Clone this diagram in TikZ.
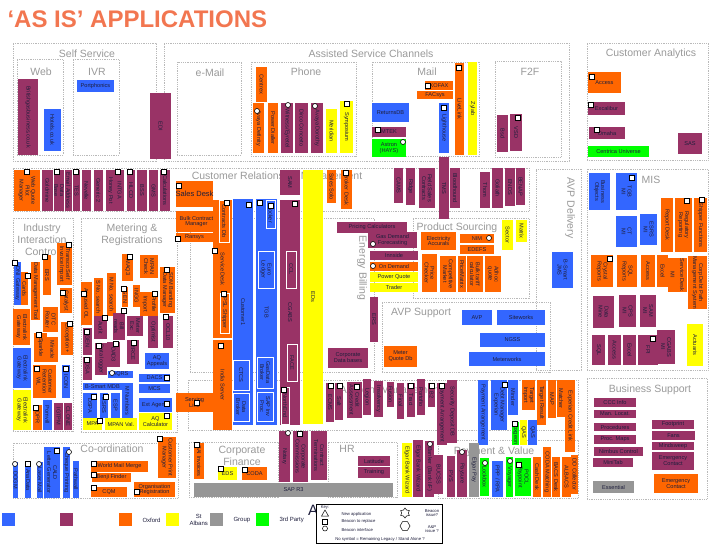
\documentclass[tikz,border=0pt]{standalone}
\usepackage{fontspec}
\setmainfont{Liberation Sans}
\usetikzlibrary{shapes.geometric}
\definecolor{cb}{RGB}{51,102,255}
\definecolor{cp}{RGB}{153,51,102}
\definecolor{co}{RGB}{255,102,0}
\definecolor{cy}{RGB}{255,255,0}
\definecolor{cg}{RGB}{150,150,150}
\definecolor{cgr}{RGB}{0,255,0}
\definecolor{ink}{RGB}{30,30,60}
\definecolor{ttl}{RGB}{242,118,80}
\begin{document}
\begin{tikzpicture}[x=1pt,y=-1pt,
    app/.style={inner sep=0pt, text=ink, font=\fontsize{5.6}{5.9}\selectfont, align=center},
    vbox/.style={app, rotate=-90},
    hbox/.style={app},
    inbox/.style={draw=white, line width=.8pt},
    cont/.style={draw=gray!55, dash pattern=on .9pt off .9pt, line width=.5pt, inner sep=0pt},
    grp/.style={text=gray!80, font=\fontsize{10.5}{12}\selectfont, align=center},
    sq/.style={draw=black, fill=white, line width=.7pt, minimum size=4.5pt, inner sep=0pt},
    ci/.style={circle, draw=black, fill=white, line width=.6pt, minimum size=5pt, inner sep=0pt},
    legtxt/.style={text=ink, font=\fontsize{6}{6.5}\selectfont, align=center},
    keytxt/.style={text=ink, font=\fontsize{4.2}{4.6}\selectfont, align=center}]
\useasboundingbox (0,0) rectangle (728,546);

\node[anchor=west, text=ttl, font=\fontsize{24}{26}\bfseries\selectfont] (title) at (4,19) {‘AS IS’ APPLICATIONS};

% dotted groups
\foreach \n/\xa/\ya/\xb/\yb in {selfserv/13/43/156/161, web/17/59/63/155, ivr/73/59/119/155,
    asc/164/43/569/161, emailbox/177/62/241/155, phone/251/62/356/156, mail/372/62/479/156,
    f2f/495/61/561/157, custan/587/43/708/160, crm/13/168/529/211, iic/13/218/73/431,
    metreg/81/218/177/432, ebill/190/218/374/372, prodsrc/413/218/529/298, avpsup/382/302/550/372,
    avpdel/536/169/581/370, mis/587/169/708/370, acct/188/380/578/430, bussup/587/378/707/499,
    hr/328/442/397/497, payval/438/440/578/498, corpfin/189/442/278/497, coord/13/443/178/498}{
  \node[cont, minimum width={(\xb-\xa)*1pt}, minimum height={(\yb-\ya)*1pt}] (\n) at ({(\xa+\xb)/2},{(\ya+\yb)/2}) {};
}
\foreach \n/\x/\y/\t in {lselfserv/87/54/Self Service, lweb/41/72/Web, livr/97/72/IVR,
    lemail/210/73/e-Mail, lasc/371/54/Assisted Service Channels, lphone/306/72/Phone,
    lmail/427/72/Mail, lf2f/530/72/F2F, lcustan/651/54/Customer Analytics,
    lcrm/277/177/Customer Relationship Management, liic/42/240/{Industry\\Interaction\\Control},
    lmetreg/132/235/{Metering \&\\Registrations}, lprodsrc/457/228/Product Sourcing,
    lavpsup/421/313/AVP Support, lmis/651/180/MIS, lbussup/650/390/Business Support,
    lacct/391/391/Account Management, lhr/347/449/HR, lpayval/494/452/{Payment \& Value},
    lcorpfin/242/456/{Corporate\\Finance}, lcoord/112/449/Co-ordination}{
  \node[grp] (\n) at (\x,\y) {\t};
}
\node[grp, rotate=-90] (lebill) at (362,268) {Energy Billing};
\node[grp, rotate=-90] (lavpdel) at (570,208) {AVP Delivery};

% applications, vertical text
\foreach \n/\xa/\ya/\xb/\yb/\c/\t in {bgb/18/79/38/155/cp/Britishgasbusiness.co.uk,
    hotels/44/109/61/151/cb/Hotels.co.uk, edi/150/93/171/159/cp/EDI,
    centrex/256/67/267/102/co/Centrex, avdef/253/103/264/153/co/Avaya Definity,
    pdial/268/103/278/153/co/Power Dialler, witness/281/103/293/153/cp/{Witness/Eyretel},
    dirco/295/103/308/153/cp/Dirco Concerto, avdor/311/103/323/153/cp/Avaya Dorothy,
    merid/326/109/337/153/cy/Meridian, symp/340/101/353/153/cy/Symposium,
    lighth/439/103/449/153/cb/Lighthouse, livel/455/63/464/155/co/LiveLink,
    zylab/468/62/477/155/cy/Zylab, bsd/497/115/508/152/cp/Bsd, vsd/510/114/522/151/cp/VSD,
    wqpm/14/170/40/211/co/{Web Quote\\Pilot\\Manager}, goldm/42/170/53/211/cp/Goldmine,
    datab/54/170/64/211/cp/{Data\\Base}, emailad/65/170/72/211/cp/Email Address,
    tes/73/170/80/211/cp/TES, nevel/82/170/91/211/cp/Nevelle, gen2/94/170/103/211/cp/Generic 2,
    honey/106/170/115/211/cp/Honey Pot, intga/115/170/124/211/cp/INTGA,
    hlcd/127/170/135/211/cp/HLCD, bss/137/170/147/211/cp/BSS, gms/149/170/158/211/cp/GMS,
    calcs/160/170/170/211/cp/Calculations, sam/280/170/300/195/cp/SAM,
    salesolo/327/170/336/203/co/Sales Solo, broker/341/170/352/209/co/Broker Desk,
    cams/394/168/403/203/cp/CAMS, ridge/406/168/415/205/cp/Ridge,
    fieldsc/419/168/435/208/cp/{Field Sales\\Contracts}, tms/439/157/449/219/cp/TMS,
    blood/450/168/460/208/cp/Bloodhound, thom/480/172/490/208/cp/Thom,
    goliath/492/168/503/208/cp/Goliath, ends/505/168/515/206/cp/ENDS,
    benap/516/168/525/205/cp/BENAP,
    servdesk/213/200/232/338/co/Service Desk, india/213/340/232/430/co/India Server,
    cust1/233/199/253/425/cb/Customer1, tgb/256/199/277/425/cb/TGB,
    cgabs/280/200/300/425/cp/CGABS, edsy/303/170/323/424/cy/EDs, ers2/370/297/378/342/cp/ERS,
    sector/502/220/513/250/cy/Sector, matrix/516/220/527/242/cy/Matrix,
    pcheck/422/254/437/292/co/{Price\\Checker}, compmkt/440/256/456/292/co/{Competitive\\Market},
    pmatrix/458/256/466/292/co/PriceMatrix, bulkt/467/256/483/292/co/{Bulk tariff\\calculator},
    adhoc/485/256/501/292/co/{Adhoc\\quote}, bsjms/552/252/573/288/cb/{B-Smart\\JMS},
    bo/589/173/610/210/cb/{Business\\Objects}, tgbmi/616/173/637/210/cb/{TGB\\MI},
    ctmi/616/216/637/247/cb/{CT\\MI}, esrsmi/640/214/657/245/cb/{ESRS\\MI},
    repdesk/661/198/673/252/co/Report Desk, regrep/675/198/692/252/co/{Regulatory\\Reporting},
    shipfn/694/198/707/252/co/Shipper Functions, crystal/591/255/613/287/co/{Crystal\\Reports},
    sqlrep/617/255/637/287/co/{SQL\\Reports}, accmis/641/255/655/287/co/Access,
    excmis/657/255/668/287/co/Excel, mimis/668/258/677/292/co/MI,
    sdmis/677/258/687/292/co/Service Desk, cdpm/688/258/707/307/co/{Corp Debt Path\\Management System},
    datamine/593/296/614/328/cp/{Data\\Mine}, cpsmi/619/295/636/327/cp/{CPS\\MI},
    sammi/640/295/656/327/cp/{SAM\\MI}, sqlp/592/335/605/365/cp/SQL, accp/608/335/621/365/cp/Access,
    excp/623/335/636/365/cp/Excel, fpi/638/335/658/365/cp/FPI, cgmi/657/330/675/364/cp/{CGABS\\MI},
    actu/687/324/703/366/cy/Actuaris,
    transco/57/243/72/285/co/{Transco Self\\Invoice Import}, ers/43/255/51/295/co/ERS,
    dmt/31/262/40/320/co/Data Management Tool, dni/14/262/21/305/cb/DNI Gateway,
    cards/21/272/28/305/co/Cards, catal/60/288/72/313/co/Catalyst,
    elgwa/13/309/30/345/co/{Electralink\\Gateway}, dtc/43/307/58/332/co/{DTC\\Router},
    exc/61/322/73/355/co/Exception +, sparkle/34/333/47/362/co/Sparkle,
    miracle/47/337/58/362/co/Miracle, elgwb/13/348/31/388/cb/{Electralink\\Gateway},
    custret/33/365/56/398/co/{Customer\\Retention\\WL}, icon/62/365/70/398/cb/ICON,
    elgwc/13/390/31/430/cy/{Electralink\\Gateway}, dpr/33/405/42/430/co/DPR,
    pomv/43/400/52/430/cb/Pomvill, igtpm/54/403/63/430/cp/IGTPM, clone/64/403/72/430/cp/CLONE,
    maq/122/254/133/281/co/MAQ3, mpanchk/140/255/158/278/co/{MPAN\\Check},
    sdm/160/267/175/313/co/{SDM Banding\\Data Manager}, snos/94/278/103/316/co/S No. search,
    mnos/107/273/116/316/co/M No. search, gen/122/287/128/307/co/GEN, ingg/133/285/140/307/co/INGG,
    import/140/292/150/316/co/Import, profile/150/292/158/316/co/Profile,
    accol/81/282/92/325/co/Accused OL, audit/94/316/107/339/cp/Audit,
    billr/113/313/125/340/cp/{Bill\\reads}, meterex/127/316/143/336/cp/{Meter\\Exc},
    optim/148/316/158/348/cp/Optimist, ocl/163/316/173/348/cp/OCL10, genp/83/328/92/355/cp/GEN,
    datalog/95/343/107/375/cp/{Data logger}, dad/107/342/120/367/cp/DAD3,
    mrce/127/340/139/364/cp/MRCE, dsa/83/357/92/380/cp/DSA, mnum/122/383/133/419/cb/M Numbers,
    dspa/83/393/97/418/cb/DSPA, esrs/100/393/108/418/cb/ESRS, esp/111/393/120/418/cb/ESP,
    ecms/326/383/334/422/cp/ECMS, salt/335/383/343/420/cp/Salt,
    credit/347/382/362/418/cp/{Credit\\Assessment}, legion/363/379/371/415/cp/Legion,
    insolv/374/381/383/417/cp/Insolvency, fusion/387/382/394/407/cp/Fusion,
    final/397/383/404/419/cp/Final, traci/407/383/415/417/cp/Traci,
    portf/417/379/425/415/cp/Portofio, btwo/428/383/435/407/cp/B2,
    payarr/437/383/447/445/cp/Payment Arrangement, secdep/447/380/457/443/cp/Security Deposit DB,
    payarrb/478/380/488/445/cb/Payment Arrangement, debtm/491/380/507/430/cb/{Debt Manager\\Experian},
    minder/508/380/518/415/cb/Minder, timp/522/380/535/410/co/{Target\\Import},
    tres/537/380/546/425/co/Target Result, map/548/380/556/418/co/MAP,
    matcher/557/380/565/417/co/Matcher, expcl/565/380/575/452/co/Experian Credit Link,
    voxg/512/422/519/445/cgr/Voxgeon, qasy/520/420/527/445/cy/QAS, qasb/528/420/537/445/cb/QAS,
    notary/279/431/290/482/cp/Notary, corpcom/293/431/308/482/cp/{Corporate\\Commissions},
    contterm/311/431/327/480/cp/{Contract\\Terminations},
    elgbwy/402/443/412/497/cy/Elgar Bank Wizard, elgbwp/413/440/423/497/cp/Elgar Bank Wizard,
    banker/425/441/434/497/cp/{Banker (Bank I/F)}, bucss/434/455/443/494/cp/BUCSS,
    pvs/447/456/455/497/cp/PVS, paysure/457/450/467/497/cp/Paysure,
    elgpay/469/443/479/497/cg/Elgar Pay, lockbox/480/458/489/496/cgr/Lockbox,
    ppp/492/461/503/497/cb/{PPP / RPA}, voyager/506/457/513/497/cgr/Voyager,
    pocl/515/458/531/496/cgr/{POCL\\Paypoint}, cashd/533/457/541/497/co/Cash Desk,
    codam/543/447/551/497/co/CODA Matching, bacs/552/457/560/497/co/BACS Desk,
    albacs/562/457/571/497/co/ALBACS, ddc/571/455/578/494/co/DD Collector,
    saiinv/194/443/204/479/co/SAI Invoices,
    dogm/13/462/18/498/cb/DOGM, anad/25/462/31/498/cb/AnaData, laser/37/462/43/498/cb/Laser Mail,
    cald/44/447/60/498/cb/{CALD\\Letter Generator}, cheque/63/447/70/498/cb/Cheque Printing,
    pathw/73/461/79/498/cb/Pathwall, custpm/158/437/176/478/co/{Customer Print\\Manager}}{
  \node[vbox, fill=\c, minimum width={(\yb-\ya)*1pt}, minimum height={(\xb-\xa)*1pt}] (\n) at ({(\xa+\xb)/2},{(\ya+\yb)/2}) {\t};
}

% applications, level text
\node[hbox, fill=co, font=\fontsize{7.5}{8}\selectfont, minimum width=37pt, minimum height=26pt] (sales) at (194.5,194) {Sales Desk};
\foreach \n/\xa/\ya/\xb/\yb/\c/\t in {portph/77/80/114/92/cb/Portphonics,
    retdb/372/103/409/122/cb/ReturnsDB, mtek/372/127/406/137/cp/MTEK,
    astron/372/139/406/157/cgr/{Astron\\(HAYS)}, kofax/425/81/453/90/co/KOFAX,
    facsys/417/91/453/99/co/FACsys, access/588/72/621/93/co/Access,
    excal/588/102/625/115/cp/Excalibur, omaha/589/127/625/139/cp/Omaha,
    univ/588/146/649/157/cgr/Centrica Universe, sas/678/133/702/154/cp/SAS,
    bulk/176/211/217/232/co/{Bulk Contract\\Manager}, ransys/176/233/213/242/co/Ransys,
    servline/176/393/213/412/co/{Serving\\Line},
    pricing/337/222/407/233/cp/Pricing Calculators, gasdem/368/232/417/248/cp/{Gas Demand\\Forecasting},
    innside/370/251/418/260/cp/Innside, ondem/370/262/418/271/co/On Demand,
    pquote/370/272/418/282/cy/Power Quote, trader/370/283/418/292/cy/Trader,
    elacc/421/232/456/250/co/{Electricity\\Accurals}, nim/460/234/494/243/co/NIM,
    edefs/460/245/494/254/co/EDEFS, corpdb/328/348/368/368/cp/{Corporate\\Data bases},
    mqdb/384/346/417/367/co/{Meter\\Quote Db}, avp/462/310/492/325/cb/AVP,
    sitew/497/310/545/325/cb/Siteworks, ngss/480/333/545/347/cb/NGSS,
    meterw/469/352/545/366/cb/Meterworks,
    aqapp/145/353/169/369/cb/{AQ\\Appeals}, aqrs/108/371/133/378/cb/AQRS,
    dacs/139/374/170/382/cb/DACS, bsmdb/83/383/122/390/cb/B-Smart MDB,
    mcs/139/384/170/393/cb/MCS, extag/139/398/172/412/cb/Ext Agents,
    mpa/83/418/102/430/cy/MPA, mpanv/105/418/137/430/cy/MPAN Val.,
    aqcalc/139/413/172/430/cy/{AQ\\Calculator},
    wmm/91/461/148/472/co/World Mail Merge, benji/92/473/131/482/co/Benji Finder,
    cqm/91/487/127/497/co/CQM, orgreg/134/482/175/497/co/{Organisation\\Registration},
    eds/218/467/237/480/cy/EDS, coda/242/467/267/480/co/CODA, sapr/194/483/393/497/cg/SAP R3,
    latit/358/456/390/466/cp/Latitude, train/358/467/390/478/cp/Training,
    ccc/594/398/636/407/cp/CCC Info, manloc/594/410/636/418/cp/Man. Locat.,
    proc/594/423/636/431/cp/Procedures, pmaps/594/435/636/444/cp/Proc. Maps,
    nimbus/594/447/643/456/cp/Nimbus Control, minitab/593/458/633/467/cp/MiniTab,
    essen/593/481/634/493/cg/Essential, foot/652/420/694/429/cp/Footprint,
    fans/652/431/695/440/cp/Fans, mindsw/652/442/694/450/cp/Mindsweep,
    emerga/652/452/694/470/cp/{Emergency\\Contact}, emergb/654/474/698/493/co/{Emergency\\Contact}}{
  \node[hbox, fill=\c, minimum width={(\xb-\xa)*1pt}, minimum height={(\yb-\ya)*1pt}] (\n) at ({(\xa+\xb)/2},{(\ya+\yb)/2}) {\t};
}

% boxes inside boxes
\foreach \n/\xa/\ya/\xb/\yb/\c/\t in {contdb/219/200/229/242/co/Contracts Db,
    pslship/220/293/229/333/co/PSL Shipper, docker/266/200/275/228/cb/Docker,
    euro/258/251/274/288/cb/{Euro\\Ledger}, gasdata/257/357/273/388/cb/{GasData\\Broker},
    sapinv/257/392/273/421/cb/{SAP Inv\\Proc}, ctcs/233/360/249/390/cb/CTCS,
    databr/233/393/249/421/cb/{Data\\Broker}, ccl/286/251/296/288/cp/CCL,
    face/287/344/297/381/cp/FACE, northend/281/387/289/424/cp/NorthEnd}{
  \node[vbox, inbox, fill=\c, minimum width={(\yb-\ya)*1pt}, minimum height={(\xb-\xa)*1pt}] (\n) at ({(\xa+\xb)/2},{(\ya+\yb)/2}) {\t};
}

% beacon marks
\foreach \x/\y [count=\i] in {347/104, 428/86, 378/130, 444/108, 459/68, 518/118, 592/77,
    591/105, 597/130, 27/172, 57/172, 76/172, 118/172, 130/172, 164/172, 346/173, 179/186,
    227/203, 178/239, 215/251, 224/294, 249/205, 260/203, 271/206, 295/204, 69/245, 45/257,
    28/276, 15/263, 63/293, 70/324, 39/335, 37/369, 66/369, 36/408, 130/257, 167/270,
    124/289, 155/294, 84/294, 105/318, 124/311, 166/317, 87/332, 99/346, 116/344, 134/343,
    87/360, 167/378, 94/397, 106/397, 167/404, 100/421, 167/416, 197/403, 221/346, 284/390,
    331/386, 340/386, 357/387, 411/386, 432/386, 442/386, 505/385, 515/424, 519/465, 300/434,
    197/445, 221/469, 245/470, 28/464, 57/451, 94/464, 94/475, 94/488, 137/492, 160/439,
    632/178, 687/201, 702/200, 610/259, 653/339}{
  \node[sq] (sq\i) at (\x,\y) {};
}
\foreach \x/\y [count=\i] in {288/105, 257/111, 315/106, 403/142, 373/244, 373/266, 489/238,
    112/373, 510/461, 485/463, 462/452, 430/444, 288/433, 15/464, 39/464, 69/452}{
  \node[ci] (ci\i) at (\x,\y) {};
}

% legend
\foreach \n/\xa/\c/\t in {lgb/2/cb/{}, lgp/60/cp/{}, lgo/119/co/Oxford, lgy/166/cy/{St\\Albans},
    lgg/210/cg/Group, lggr/256/cgr/3rd Party}{
  \node[fill=\c, minimum width=13pt, minimum height=13pt, inner sep=0pt] (\n) at (\xa+6.5,519.5) {};
  \node[legtxt, anchor=west] (\n t) at (\xa+20,520) {\t};
}
\node[text=ink, font=\fontsize{15}{16}\selectfont] (bigA) at (313,510) {A};

% key
\node[draw=black, line width=.8pt, fill=white, minimum width=126pt, minimum height=39pt, inner sep=0pt] (key) at (379,523.5) {};
\node[keytxt] (keyhd) at (325,507) {Key:};
\node[regular polygon, regular polygon sides=3, draw=black, line width=.5pt, minimum size=8pt, inner sep=0pt] (ktri) at (325,514) {};
\node[draw=black, line width=.5pt, minimum size=5pt, inner sep=0pt] (ksq) at (325,521.5) {};
\node[circle, draw=black, line width=.5pt, minimum size=5pt, inner sep=0pt] (kci) at (325,528.5) {};
\node[keytxt, anchor=west] (ktrit) at (338,514) {New application};
\node[keytxt, anchor=west] (ksqt) at (338,521) {Beacon to replace};
\node[keytxt, anchor=west] (kcit) at (338,530) {Beacon interface};
\node[star, star points=6, draw=black, line width=.5pt, minimum size=10pt, inner sep=0pt] (kstar) at (405,513) {};
\node[regular polygon, regular polygon sides=6, draw=black, line width=.5pt, minimum size=10pt, inner sep=0pt] (khex) at (405,526) {};
\node[keytxt] (kstart) at (432,513) {Beacon\\issue?};
\node[keytxt] (khext) at (432,529) {A\&P\\issue ?};
\node[keytxt] (knone) at (380,539) {No symbol = Remaining Legacy / Stand Alone ?};
\end{tikzpicture}
\end{document}
